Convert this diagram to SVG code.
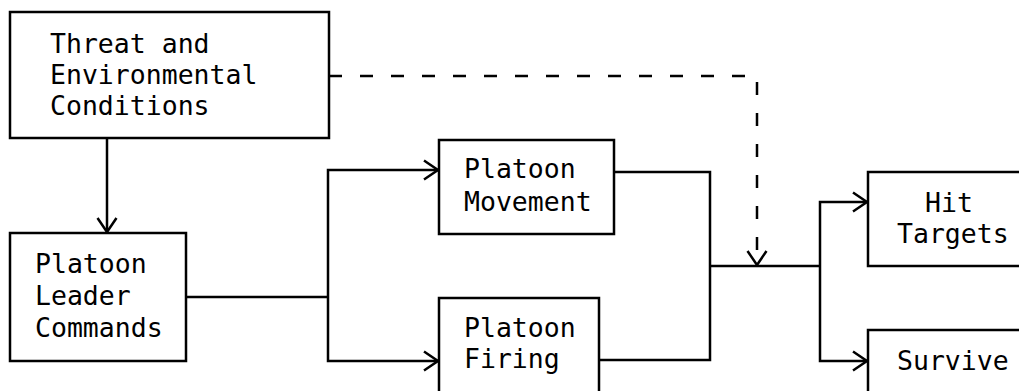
<svg xmlns="http://www.w3.org/2000/svg" width="1019" height="391" viewBox="0 0 1019 391">
<style>
.box{fill:#fff;stroke:#000;stroke-width:2.5}
.lbl{font-family:"DejaVu Sans Mono","Liberation Mono",monospace;font-size:26.5px;fill:#000}
.ln{fill:none;stroke:#000;stroke-width:2.5}
.dash{stroke-dasharray:13 18}
</style>
<defs>
<marker id="ar" markerUnits="userSpaceOnUse" markerWidth="22" markerHeight="24" refX="15" refY="12" orient="auto">
<path d="M1,2.5 L15,12 L1,21.5" fill="none" stroke="#000" stroke-width="2.5"/>
</marker>
</defs>
<rect width="1019" height="391" fill="#fff"/>
<g id="connectors">
<path class="ln" d="M107,139 V232" marker-end="url(#ar)"/>
<path class="ln" d="M186,297 H328"/>
<path class="ln" d="M328,297 V170 H438" marker-end="url(#ar)"/>
<path class="ln" d="M328,297 V361 H438" marker-end="url(#ar)"/>
<path class="ln" d="M614,172 H710 V360 H599"/>
<path class="ln" d="M710,266 H820"/>
<path class="ln" d="M820,266 V202 H867" marker-end="url(#ar)"/>
<path class="ln" d="M820,266 V361 H867" marker-end="url(#ar)"/>
<path class="ln dash" d="M329,76 H757 V265" marker-end="url(#ar)"/>
</g>
<g id="threat">
<rect class="box" x="10" y="12" width="319" height="126"/>
<text class="lbl" x="50" y="53">Threat and</text>
<text class="lbl" x="50" y="84">Environmental</text>
<text class="lbl" x="50" y="115">Conditions</text>
</g>
<g id="leader">
<rect class="box" x="10" y="233" width="176" height="128"/>
<text class="lbl" x="35" y="273">Platoon</text>
<text class="lbl" x="35" y="305">Leader</text>
<text class="lbl" x="35" y="337">Commands</text>
</g>
<g id="movement">
<rect class="box" x="439" y="140" width="175" height="94"/>
<text class="lbl" x="464" y="178">Platoon</text>
<text class="lbl" x="464" y="211">Movement</text>
</g>
<g id="firing">
<rect class="box" x="439" y="298" width="160" height="110"/>
<text class="lbl" x="464" y="337">Platoon</text>
<text class="lbl" x="464" y="368">Firing</text>
</g>
<g id="hit">
<rect class="box" x="868" y="172" width="170" height="94"/>
<text class="lbl" x="925" y="212">Hit</text>
<text class="lbl" x="897" y="243">Targets</text>
</g>
<g id="survive">
<rect class="box" x="868" y="330" width="170" height="80"/>
<text class="lbl" x="897" y="370">Survive</text>
</g>
</svg>
